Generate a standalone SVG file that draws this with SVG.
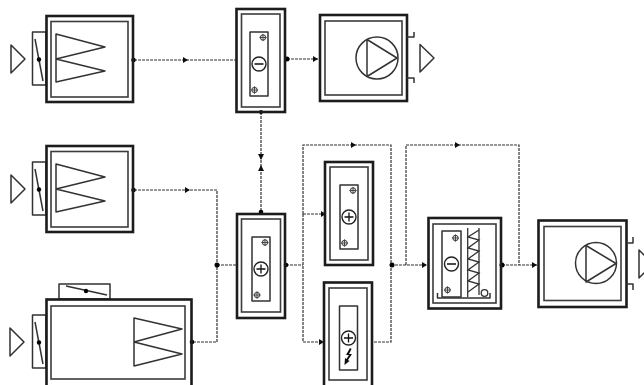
<svg xmlns="http://www.w3.org/2000/svg" width="644" height="385" viewBox="0 0 644 385">
<style>
svg > g{filter:url(#soft)}
.o{fill:none;stroke:#1c1c1c;stroke-width:2.6}
.i{fill:none;stroke:#3c3c3c;stroke-width:1.6}
.s{fill:none;stroke:#333;stroke-width:1.5;stroke-linejoin:round}
.c{fill:none;stroke:#333;stroke-width:1.2;stroke-dasharray:3 1}
.d{fill:#000}
.a{fill:#111}
.h{fill:none;stroke:#333;stroke-width:1.3}
</style>
<defs>
<filter id="soft" x="-5%" y="-5%" width="110%" height="110%"><feGaussianBlur stdDeviation="0.35"/></filter>
<g id="cross"><circle r="2.600" fill="none" stroke="#555" stroke-width="1.2"/><path d="M-3.600 0H3.600M0-3.600V3.600" stroke="#444" stroke-width="1" fill="none"/></g>
<g id="plus"><circle r="7" fill="#fff" stroke="#222" stroke-width="1.4"/><path d="M-4.500 0H4.500M0-4.500V4.500" stroke="#111" stroke-width="1.3"/></g>
<g id="minus"><circle r="7" fill="#fff" stroke="#222" stroke-width="1.4"/><path d="M-4.500 0H4.500" stroke="#111" stroke-width="1.5"/></g>
</defs>
<g id="connectors">
<path class="c" d="M134 60H236"/>
<path class="c" d="M287 59H318"/>
<path class="c" d="M134 190H217V342H192"/>
<path class="c" d="M217 265H237"/>
<path class="c" d="M261 112V213"/>
<path class="c" d="M286 265H303"/>
<path class="c" d="M303 214V145H391V342H372"/>
<path class="c" d="M303 214H325M303 214V342H323"/>
<path class="c" d="M391 265H426"/>
<path class="c" d="M406 265V145H519V265"/>
<path class="c" d="M502 265H537"/>
<path class="a" d="M188 60l-5-3v6zM318 59l-5-3v6zM261 160l-3-6h6zM261 165l-3 6h6zM326 214l-5-3v6zM324 342l-5-3v6zM356 145l-5-3v6zM427 265l-5-3v6zM460 145l-5-3v6zM537 265l-5-3v6zM190 190l-5-3v6z"/>
<circle class="d" cx="133.500" cy="60" r="2.300"/><circle class="d" cx="287" cy="59" r="2.500"/><circle class="d" cx="133.500" cy="190" r="2.300"/><circle class="d" cx="192" cy="342" r="2.300"/><circle class="d" cx="217" cy="265" r="2.500"/><circle class="d" cx="261" cy="112" r="2"/><circle class="d" cx="261" cy="212" r="2.300"/><circle class="d" cx="286" cy="265" r="2.300"/><circle class="d" cx="392" cy="265" r="2.500"/><circle class="d" cx="502" cy="265" r="2.500"/>
</g>
<g id="inlet-ahu-1">
<path class="s" d="M11 45L25 59L11 73Z"/><rect class="s" x="32.500" y="32" width="13.500" height="53"/><path class="s" d="M35 39L43 81"/><circle class="d" cx="39" cy="59.500" r="2.200"/>
<rect class="o" x="46.500" y="16" width="86.500" height="86"/><rect class="i" x="51" y="21.500" width="77" height="75.500"/>
<path class="s" d="M105 47L56 34V82L105 71L56 59Z"/>
</g>
<g id="coil-1">
<rect class="o" x="236.500" y="9" width="48.500" height="103"/><rect class="i" x="241.500" y="14" width="38.500" height="93"/><rect class="s" x="250" y="32" width="18" height="64"/>
<use href="#minus" x="259" y="64"/><use href="#cross" x="263" y="37.500"/><use href="#cross" x="254.500" y="90"/>
</g>
<g id="fan-1">
<rect class="o" x="320" y="15" width="87" height="86"/><rect class="i" x="325" y="21" width="77" height="74"/>
<circle class="s" cx="377" cy="58" r="21"/><path class="s" d="M367 39.500L397 58L367 76.500Z"/>
<path class="s" d="M407 37H414V32M407 78H414V83"/><path class="s" d="M420 44.500L434 58L420 72Z"/>
</g>
<g id="inlet-ahu-2">
<path class="s" d="M11 175L25 189L11 203Z"/><rect class="s" x="32.500" y="162" width="13.500" height="53"/><path class="s" d="M35 169L43 211"/><circle class="d" cx="39" cy="189.500" r="2.200"/>
<rect class="o" x="46.500" y="146" width="86.500" height="86"/><rect class="i" x="51" y="151.500" width="77" height="75.500"/>
<path class="s" d="M105 177L56 164V212L105 201L56 189Z"/>
</g>
<g id="mixing-ahu">
<path class="s" d="M10 328L24 342L10 356Z"/><rect class="s" x="32.500" y="315" width="13.500" height="53"/><path class="s" d="M35 322L43 364"/><circle class="d" cx="39" cy="342.500" r="2.200"/>
<rect class="s" x="59" y="284" width="51" height="15"/><path class="s" d="M66 286L107 295"/><circle class="d" cx="86" cy="291" r="2.200"/>
<rect class="o" x="46.500" y="299.500" width="145" height="90"/><rect class="i" x="51" y="306" width="134" height="73"/>
<path class="s" d="M182 329L134 318V366L182 354L134 342Z"/>
</g>
<g id="coil-2">
<rect class="o" x="237" y="214" width="48" height="104"/><rect class="i" x="241.500" y="219" width="39" height="93"/><rect class="s" x="252" y="237" width="18" height="64"/>
<use href="#plus" x="261" y="269"/><use href="#cross" x="265" y="242.500"/><use href="#cross" x="257" y="295"/>
</g>
<g id="coil-3">
<rect class="o" x="325" y="162" width="48" height="103"/><rect class="i" x="330" y="167" width="38" height="93"/><rect class="s" x="340" y="185" width="18" height="64"/>
<use href="#plus" x="349" y="217"/><use href="#cross" x="353" y="190.500"/><use href="#cross" x="344.500" y="243"/>
</g>
<g id="electric-heater">
<rect class="o" x="324" y="282.500" width="48" height="110"/><rect class="i" x="329" y="288" width="38" height="92"/><rect class="s" x="339.500" y="306" width="18" height="64"/>
<use href="#plus" x="348.500" y="338"/>
<path fill="#111" d="M350 348L346 355L349 355L346.500 359L345 358L344.500 365L349.500 361L348 360L352 354L349 354L351.500 349Z"/>
</g>
<g id="cooling-coil">
<rect class="o" x="428.500" y="218" width="72.500" height="90.500"/><rect class="i" x="433" y="224" width="63" height="79"/><rect class="s" x="442" y="231" width="19" height="66"/>
<use href="#minus" x="451.500" y="264"/><use href="#cross" x="455.500" y="238"/><use href="#cross" x="447.500" y="290"/>
<path class="h" d="M467.700 228V297M479 228V295"/>
<path class="h" d="M479 230L468 237L479 240L468 248L479 251L468 259L479 262L468 270L479 273L468 281L479 284L468 292"/>
<path class="s" d="M437.500 293V298H490V293"/><circle class="h" cx="484.500" cy="293" r="3.300"/>
</g>
<g id="fan-2">
<rect class="o" x="538.500" y="220.500" width="88" height="86.500"/><rect class="i" x="544" y="226.500" width="77" height="74"/>
<circle class="s" cx="596" cy="263" r="20.500"/><path class="s" d="M586 245.500L616 263.500L586 282Z"/>
<path class="s" d="M626 243H633V237M626 284H633V290"/><path class="s" d="M639 250L653 264L639 278Z"/>
</g>
</svg>
